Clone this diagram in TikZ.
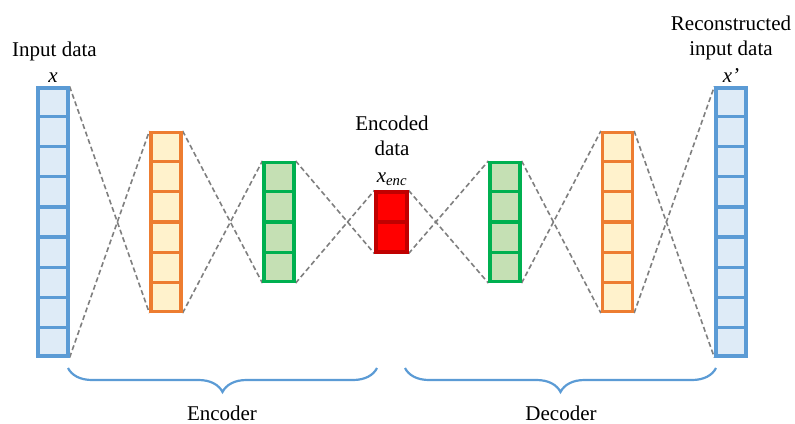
\documentclass[tikz,border=0pt]{standalone}
\usepackage{fontspec}
\setmainfont{Liberation Serif}
\usetikzlibrary{calc, backgrounds, decorations.pathreplacing}

\definecolor{inblue}{HTML}{5B9BD5}
\definecolor{infill}{HTML}{DEEBF7}
\definecolor{encorange}{HTML}{ED7D31}
\definecolor{orangefill}{HTML}{FFF2CC}
\definecolor{encgreen}{HTML}{00B050}
\definecolor{greenfill}{HTML}{C5E0B4}
\definecolor{codered}{HTML}{C00000}
\definecolor{codefill}{HTML}{FF0000}
\definecolor{linkgray}{HTML}{7F7F7F}

\begin{document}
\begin{tikzpicture}[x=1pt, y=-1pt,
    layer/.style = {draw, line width=3.2pt, minimum width=30pt, inner sep=0pt},
    link/.style = {draw=linkgray, line width=1.6pt, dash pattern=on 5pt off 3pt},
    lbl/.style = {font=\fontsize{21}{24.5}\selectfont, align=center, anchor=base, inner sep=0pt},
    bracket/.style = {draw=inblue, line width=2.2pt, decorate, decoration={brace, mirror, amplitude=24pt}}]
    \useasboundingbox (0,0) rectangle (795,423);

    % layers
    \node[layer, draw=inblue, fill=infill, minimum height=268pt] (in) at (53,222) {};
    \node[layer, draw=encorange, fill=orangefill, minimum height=179pt] (enc1) at (166,222) {};
    \node[layer, draw=encgreen, fill=greenfill, minimum height=119pt] (enc2) at (279,222) {};
    \node[layer, draw=codered, fill=codefill, minimum height=60pt, minimum width=31pt] (code) at (391.5,222) {};
    \node[layer, draw=encgreen, fill=greenfill, minimum height=119pt] (dec1) at (505,222) {};
    \node[layer, draw=encorange, fill=orangefill, minimum height=179pt] (dec2) at (617.5,222) {};
    \node[layer, draw=inblue, fill=infill, minimum height=268pt] (out) at (731,222) {};

    % cells
    \foreach \nd/\n/\c in {in/9/inblue, enc1/6/encorange, enc2/4/encgreen, code/2/codered, dec1/4/encgreen, dec2/6/encorange, out/9/inblue}
        \foreach \i in {2,...,\n} {
            \pgfmathsetmacro\f{(\i-1)/\n}
            \draw[\c, line width=3.2pt] ($(\nd.north west)!\f!(\nd.south west)$) -- ($(\nd.north east)!\f!(\nd.south east)$);
        }

    % links
    \begin{scope}[on background layer]
        \draw[link] (in.north east) -- (enc1.south west);
        \draw[link] (in.south east) -- (enc1.north west);
        \draw[link] (enc1.north east) -- (enc2.south west);
        \draw[link] (enc1.south east) -- (enc2.north west);
        \draw[link] (enc2.north east) -- (code.south west);
        \draw[link] (enc2.south east) -- (code.north west);
        \draw[link] (code.north east) -- (dec1.south west);
        \draw[link] (code.south east) -- (dec1.north west);
        \draw[link] (dec1.north east) -- (dec2.south west);
        \draw[link] (dec1.south east) -- (dec2.north west);
        \draw[link] (dec2.north east) -- (out.south west);
        \draw[link] (dec2.south east) -- (out.north west);
    \end{scope}

    % labels
    \node[lbl] (inlbl) at (54.5,56) {Input data};
    \node[lbl] (inx) at (53,82) {\textit{x}};
    \node[lbl] (codelbl) at (392,155) {Encoded\\data};
    \node[lbl] (codex) at (392,182.7) {\textit{x}\textsubscript{\textit{enc}}};
    \node[lbl] (outlbl) at (731,55) {Reconstructed\\input data};
    \node[lbl] (outx) at (731,82) {\textit{x’}};

    % braces
    \coordinate (encl) at (68,368);
    \coordinate (encr) at (377,368);
    \coordinate (decl) at (405,368);
    \coordinate (decr) at (716,368);
    \draw[bracket] (encl) -- (encr);
    \draw[bracket] (decl) -- (decr);
    \node[lbl] (enclbl) at (222,420) {Encoder};
    \node[lbl] (declbl) at (561,420) {Decoder};
\end{tikzpicture}
\end{document}
